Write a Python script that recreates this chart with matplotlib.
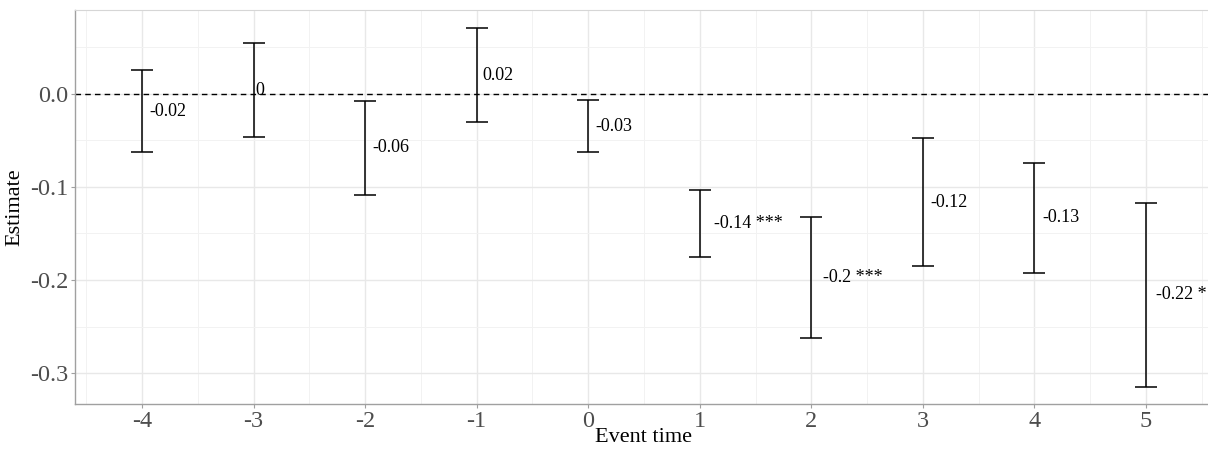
import matplotlib
matplotlib.use("Agg")
import matplotlib.pyplot as plt
import matplotlib.transforms as mtransforms
import numpy as np

plt.rcParams['font.family'] = ['Liberation Serif', 'DejaVu Serif']

# event-study estimates with confidence bounds
event_time = [-4, -3, -2, -1, 0, 1, 2, 3, 4, 5]
estimate = [-0.0187, 0.0035, -0.058, 0.020, -0.0347, -0.139, -0.197, -0.117, -0.133, -0.216]
ci_low = [-0.0629, -0.0468, -0.109, -0.0306, -0.0622, -0.175, -0.262, -0.1854, -0.1925, -0.3146]
ci_high = [0.0254, 0.0540, -0.0078, 0.0705, -0.0072, -0.1032, -0.1325, -0.0479, -0.074, -0.1168]
labels = ['-0.02', '0', '-0.06', '0.02', '-0.03', '-0.14 ***', '-0.2 ***', '-0.12', '-0.13', '-0.22 *']

fig = plt.figure(figsize=(12.08, 4.5), dpi=100)
ax = fig.add_axes([0.0621, 0.1022, 0.942, 0.876])

x = np.array(event_time)
est = np.array(estimate)
yerr = [est - np.array(ci_low), np.array(ci_high) - est]
ax.errorbar(x, est, yerr=yerr, fmt='none', ecolor='black', elinewidth=1.1,
            capsize=7.6, capthick=1.1, zorder=3)

ax.axhline(0, color='black', lw=1.0, ls=(0, (4, 3)), zorder=2)

ax.set_xticks(event_time)
ax.set_xticklabels([str(v) for v in event_time])
ax.set_yticks([0.0, -0.1, -0.2, -0.3])
ax.set_yticklabels(['0.0', '-0.1', '-0.2', '-0.3'])
ax.set_xticks(np.arange(-4.5, 5.6, 1), minor=True)
ax.set_yticks([-0.25, -0.15, -0.05, 0.05], minor=True)
ax.set_xlim(-4.6, 5.6)
ax.set_ylim(-0.333, 0.090)

ax.grid(which='major', color='#e8e8e8', lw=1.0, zorder=0)
ax.grid(which='minor', color='#f2f2f2', lw=0.7, zorder=0)
ax.set_axisbelow(True)

for side in ['left', 'bottom']:
    ax.spines[side].set_color('#a0a0a0')
    ax.spines[side].set_linewidth(1.0)
ax.spines['top'].set_color('#d6d6d6')
ax.spines['right'].set_color('#d6d6d6')

ax.tick_params(which='major', length=3, color='#a0a0a0', labelsize=17.5,
               labelcolor='#4d4d4d', pad=2)
ax.tick_params(which='minor', length=0)

ax.set_xlabel('Event time', fontsize=16, labelpad=-2.5)
ax.set_ylabel('Estimate', fontsize=16, labelpad=4)

# labels to the right of each bar, shifted by a fraction of their width
fig.canvas.draw()
renderer = fig.canvas.get_renderer()
for xi, yi, lab in zip(event_time, estimate, labels):
    t = ax.text(xi, yi, lab, fontsize=13, ha='left', va='center', color='black', zorder=4)
    w = t.get_window_extent(renderer).width
    t.set_transform(mtransforms.offset_copy(ax.transData, fig, x=0.2 * w, y=0, units='dots'))

fig.savefig('out.png', dpi=100)
